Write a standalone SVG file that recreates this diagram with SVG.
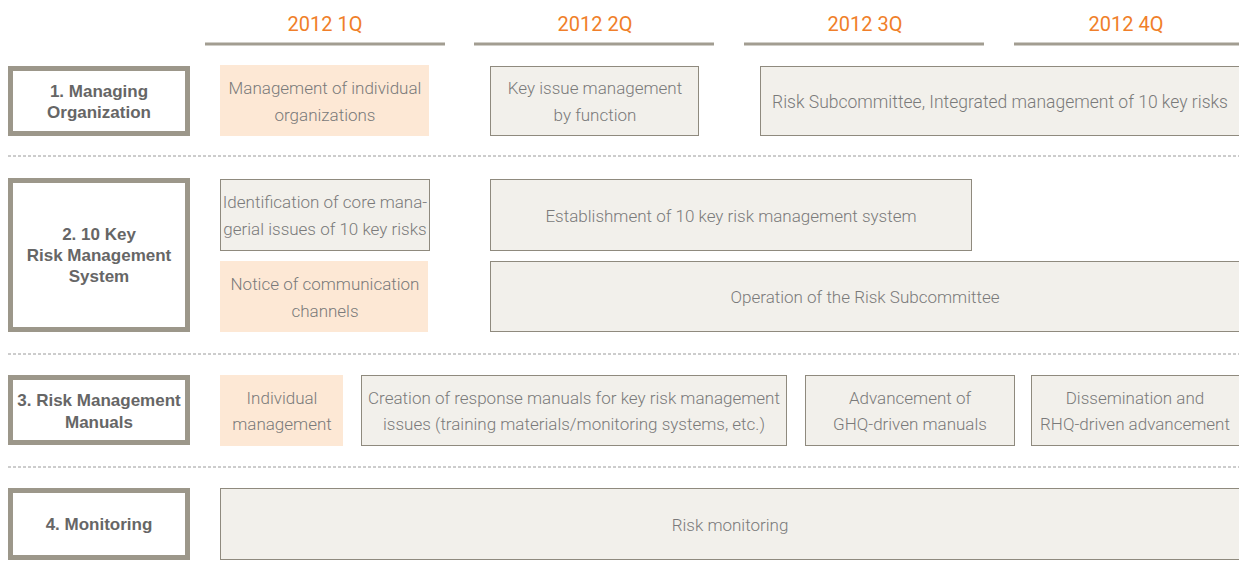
<svg xmlns="http://www.w3.org/2000/svg" width="1239" height="572" viewBox="0 0 1239 572">
<style>
.hd{font-family:Roboto,"Liberation Sans",Arial,sans-serif;font-size:20px;font-weight:400;fill:#f07f2a;text-anchor:middle}
.hl{stroke:#a29d91;stroke-width:3}
.lb rect{fill:#fff;stroke:#9c978a;stroke-width:5}
.lb text{font-family:"Liberation Sans",Arial,sans-serif;font-size:17px;font-weight:bold;fill:#666;text-anchor:middle}
.bx rect{fill:#f2f0eb;stroke:#8f8a7e;stroke-width:1}
.or rect{fill:#fde8d5;stroke:none}
.bx text,.or text{font-family:Roboto,"Liberation Sans",sans-serif;font-weight:300;font-size:17px;fill:#7a7a7a;text-anchor:middle}
.ds{stroke:#9a9a9a;stroke-width:1;stroke-dasharray:3,2}
</style>
<g id="header">
<text class="hd" x="325" y="31">2012 1Q</text>
<text class="hd" x="595" y="31">2012 2Q</text>
<text class="hd" x="865" y="31">2012 3Q</text>
<text class="hd" x="1126" y="31">2012 4Q</text>
<line class="hl" x1="205" y1="44" x2="445" y2="44"/>
<line class="hl" x1="474" y1="44" x2="714" y2="44"/>
<line class="hl" x1="744" y1="44" x2="984" y2="44"/>
<line class="hl" x1="1014" y1="44" x2="1239" y2="44"/>
</g>
<g id="separators">
<line class="ds" x1="8" y1="156" x2="1239" y2="156"/>
<line class="ds" x1="8" y1="354" x2="1239" y2="354"/>
<line class="ds" x1="8" y1="467" x2="1239" y2="467"/>
</g>
<g id="label1" class="lb"><rect x="10.5" y="68.5" width="177" height="65"/><text x="99" y="97">1. Managing</text><text x="99" y="118">Organization</text></g>
<g id="label2" class="lb"><rect x="10.5" y="180.5" width="177" height="149"/><text x="99" y="240">2. 10 Key</text><text x="99" y="261">Risk Management</text><text x="99" y="282">System</text></g>
<g id="label3" class="lb"><rect x="10.5" y="377.5" width="177" height="65"/><text x="99" y="406">3. Risk Management</text><text x="99" y="428">Manuals</text></g>
<g id="label4" class="lb"><rect x="10.5" y="490.5" width="177" height="67"/><text x="99" y="530">4. Monitoring</text></g>

<g id="n1a" class="or"><rect x="220" y="65" width="209" height="71"/><text x="325" y="94">Management of individual</text><text x="325" y="121">organizations</text></g>
<g id="n1b" class="bx"><rect x="490.5" y="66.5" width="208" height="69"/><text x="595" y="94">Key issue management</text><text x="595" y="121">by function</text></g>
<g id="n1c" class="bx"><rect x="760.5" y="66.5" width="490" height="69"/><text x="1000" y="108" style="font-size:17.5px">Risk Subcommittee, Integrated management of 10 key risks</text></g>

<g id="n2a" class="bx"><rect x="220.5" y="179.5" width="209" height="71"/><text x="325" y="208">Identification of core mana-</text><text x="325" y="235">gerial issues of 10 key risks</text></g>
<g id="n2b" class="or"><rect x="220" y="261" width="208" height="71"/><text x="325" y="290">Notice of communication</text><text x="325" y="317">channels</text></g>
<g id="n2c" class="bx"><rect x="490.5" y="179.5" width="481" height="71"/><text x="731" y="222">Establishment of 10 key risk management system</text></g>
<g id="n2d" class="bx"><rect x="490.5" y="261.5" width="760" height="70"/><text x="865" y="303">Operation of the Risk Subcommittee</text></g>

<g id="n3a" class="or"><rect x="220" y="375" width="123" height="71"/><text x="282" y="404">Individual</text><text x="282" y="430">management</text></g>
<g id="n3b" class="bx"><rect x="361.5" y="375.5" width="425" height="70"/><text x="574" y="404">Creation of response manuals for key risk management</text><text x="574" y="430">issues (training materials/monitoring systems, etc.)</text></g>
<g id="n3c" class="bx"><rect x="805.5" y="375.5" width="209" height="70"/><text x="910" y="404">Advancement of</text><text x="910" y="430">GHQ-driven manuals</text></g>
<g id="n3d" class="bx"><rect x="1031.5" y="375.5" width="220" height="70"/><text x="1135" y="404">Dissemination and</text><text x="1135" y="430">RHQ-driven advancement</text></g>

<g id="n4" class="bx"><rect x="220.5" y="488.5" width="1030" height="71"/><text x="730" y="531">Risk monitoring</text></g>
</svg>
